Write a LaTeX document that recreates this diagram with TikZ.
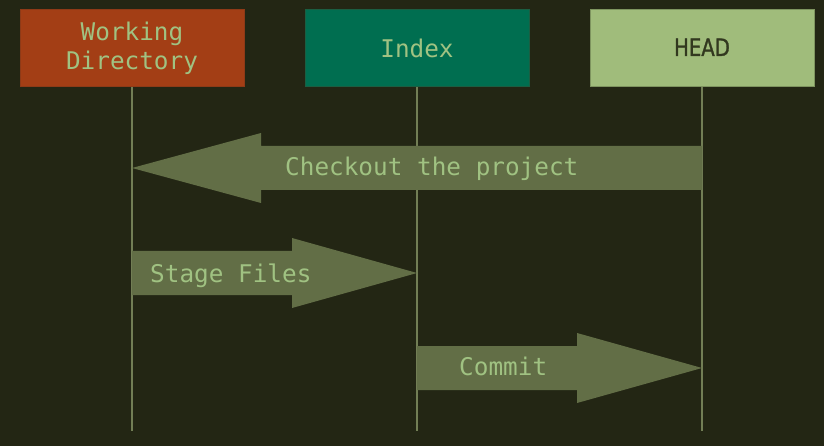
\documentclass[tikz,border=0pt]{standalone}
\usepackage{fontspec}
\usetikzlibrary{calc}
\newfontfamily\monofont{DejaVu Sans Mono}
\newfontfamily\headfont[FakeStretch=0.82,FakeBold=1.2]{DejaVu Sans}
\definecolor{bgdark}{HTML}{232614}
\definecolor{wdred}{HTML}{A33E15}
\definecolor{wdredline}{HTML}{8E3A17}
\definecolor{idxgreen}{HTML}{006E50}
\definecolor{idxline}{HTML}{1B5E42}
\definecolor{headgreen}{HTML}{A0BC7B}
\definecolor{headline}{HTML}{7E945F}
\definecolor{headtext}{HTML}{32381F}
\definecolor{txtgreen}{HTML}{A0C282}
\definecolor{lifeolive}{HTML}{727E55}
\definecolor{arrowolive}{HTML}{626E46}

\begin{document}
\begin{tikzpicture}[x=1pt,y=-1pt,
    box/.style={draw, line width=1pt, minimum width=224pt, minimum height=77pt,
      inner sep=0pt, align=center, text=txtgreen,
      font=\monofont\fontsize{24.35}{28.8}\selectfont},
    life/.style={draw=lifeolive, line width=1.2pt},
    flow/.style={fill=arrowolive},
    lbl/.style={text=txtgreen, inner sep=0pt, font=\monofont\fontsize{24.35}{28.8}\selectfont}]
    \useasboundingbox (0,0) rectangle (824,446);
    \fill[bgdark] (0,0) rectangle (824,446);
    % the three areas
    \node[box, fill=wdred, draw=wdredline] (wd) at (132,48.5) {Working\\Directory};
    \node[box, fill=idxgreen, draw=idxline] (idx) at (417,48.5) {Index};
    \node[box, fill=headgreen, draw=headline, text=headtext,
      font=\headfont\fontsize{24}{28.8}\selectfont] (head) at (702,48.5) {\raisebox{2.5pt}{HEAD}};
    % lifelines
    \coordinate (bottom) at (0,431);
    \draw[life] (wd.south) -- (wd.south |- bottom);
    \draw[life] (idx.south) -- (idx.south |- bottom);
    \draw[life] (head.south) -- (head.south |- bottom);
    % rows of the arrows
    \coordinate (row1) at (0,168);
    \coordinate (row2) at (0,273);
    \coordinate (row3) at (0,368);
    \coordinate (wdco) at (wd |- row1);
    \coordinate (headco) at (head |- row1);
    \coordinate (wdst) at (wd |- row2);
    \coordinate (idxst) at (idx |- row2);
    \coordinate (idxcm) at (idx |- row3);
    \coordinate (headcm) at (head |- row3);
    % Checkout: HEAD -> Working Directory
    \fill[flow] (wdco) -- ++(129,-35) -- ++(0,13) -- ([yshift=22pt]headco)
      -- ([yshift=-22pt]headco) -- ($(wdco)+(129,22)$) -- ++(0,13) -- cycle;
    \node[lbl, anchor=base west] (cotxt) at ([xshift=153pt,yshift=-8pt]wdco) {Checkout the project};
    % Stage: Working Directory -> Index
    \fill[flow] (idxst) -- ++(-125,-35) -- ++(0,13) -- ([yshift=22pt]wdst)
      -- ([yshift=-22pt]wdst) -- ($(idxst)+(-125,22)$) -- ++(0,13) -- cycle;
    \node[lbl, anchor=base west] (sttxt) at ([xshift=18pt,yshift=-9pt]wdst) {Stage Files};
    % Commit: Index -> HEAD
    \fill[flow] (headcm) -- ++(-125,-35) -- ++(0,13) -- ([yshift=22pt]idxcm)
      -- ([yshift=-22pt]idxcm) -- ($(headcm)+(-125,22)$) -- ++(0,13) -- cycle;
    \node[lbl, anchor=base west] (cmtxt) at ([xshift=42pt,yshift=-7pt]idxcm) {Commit};
\end{tikzpicture}
\end{document}
